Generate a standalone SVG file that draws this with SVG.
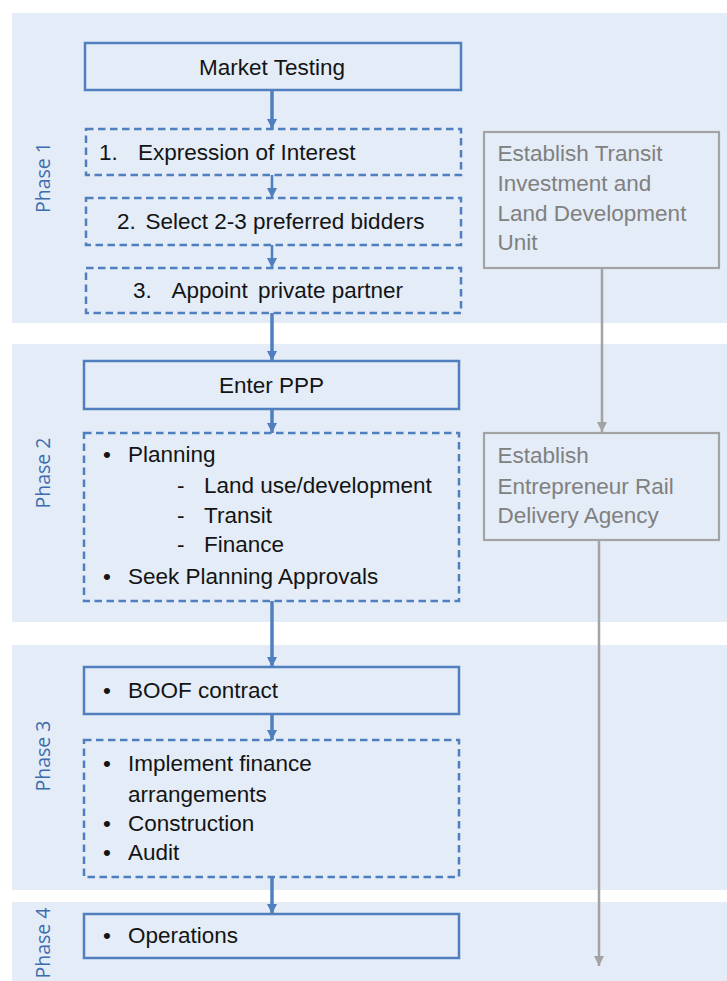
<svg xmlns="http://www.w3.org/2000/svg" width="727" height="981" viewBox="0 0 727 981">
<defs>
<style>
.band{fill:#e3ecf7}
.box{fill:none;stroke:#4f7fbf;stroke-width:2.5}
.dash{fill:none;stroke:#4f7fbf;stroke-width:2.5;stroke-dasharray:7.5 4.5}
.gbox{fill:none;stroke:#a3a3a3;stroke-width:2.2}
.t{font-family:"Liberation Sans",Arial,sans-serif;font-size:22.5px;fill:#141414}
.g{font-family:"Liberation Sans",Arial,sans-serif;font-size:22.5px;fill:#808080}
.ph{font-family:"Open Sans","Noto Sans",sans-serif;font-size:19.5px;fill:#3f6cae;text-anchor:middle}
.arr{stroke:#4f7fbf;stroke-width:3.5;fill:none}
.arr2{stroke:#4f7fbf;stroke-width:2.5;fill:none}
.garr{stroke:#a3a3a3;stroke-width:2.5;fill:none}
</style>
<marker id="ab" markerUnits="userSpaceOnUse" markerWidth="12" markerHeight="10" refX="10" refY="5" orient="auto">
<path d="M0,0 L10,5 L0,10 Z" fill="#4f7fbf"/>
</marker>
<marker id="ag" markerUnits="userSpaceOnUse" markerWidth="12" markerHeight="10" refX="10" refY="5" orient="auto">
<path d="M0,0 L10,5 L0,10 Z" fill="#a3a3a3"/>
</marker>
</defs>
<rect width="727" height="981" fill="#ffffff"/>
<g id="bands">
<rect class="band" x="12" y="13" width="715" height="310"/>
<rect class="band" x="12" y="344" width="715" height="278"/>
<rect class="band" x="12" y="645" width="715" height="245"/>
<rect class="band" x="12" y="902" width="715" height="79"/>
<text class="ph" transform="translate(49.5,177.5) rotate(-90)">Phase 1</text>
<text class="ph" transform="translate(49.5,473) rotate(-90)">Phase 2</text>
<text class="ph" transform="translate(49.5,756) rotate(-90)">Phase 3</text>
<text class="ph" transform="translate(49.5,943) rotate(-90)">Phase 4</text>
</g>
<g id="connectors">
<line class="arr" x1="272" y1="90" x2="272" y2="129" marker-end="url(#ab)"/>
<line class="arr2" x1="272" y1="175" x2="272" y2="198" marker-end="url(#ab)"/>
<line class="arr2" x1="272" y1="245" x2="272" y2="268" marker-end="url(#ab)"/>
<line class="arr" x1="272" y1="313" x2="272" y2="361" marker-end="url(#ab)"/>
<line class="arr" x1="272" y1="409" x2="272" y2="433" marker-end="url(#ab)"/>
<line class="arr" x1="272" y1="601" x2="272" y2="667" marker-end="url(#ab)"/>
<line class="arr" x1="272" y1="714" x2="272" y2="740" marker-end="url(#ab)"/>
<line class="arr" x1="272" y1="877" x2="272" y2="914" marker-end="url(#ab)"/>
<line class="garr" x1="602" y1="268" x2="602" y2="432" marker-end="url(#ag)"/>
<line class="garr" x1="599" y1="540" x2="599" y2="966" marker-end="url(#ag)"/>
</g>
<g id="market-testing">
<rect class="box" x="85" y="43" width="376" height="47"/>
<text class="t" x="272" y="75" text-anchor="middle">Market Testing</text>
</g>
<g id="expression-of-interest">
<rect class="dash" x="86" y="129" width="375" height="46"/>
<text class="t" y="160"><tspan x="99">1.</tspan><tspan x="138">Expression of Interest</tspan></text>
</g>
<g id="select-bidders">
<rect class="dash" x="86" y="198" width="375" height="47"/>
<text class="t" y="229"><tspan x="117">2.</tspan><tspan x="145.5">Select 2-3 preferred bidders</tspan></text>
</g>
<g id="appoint-partner">
<rect class="dash" x="86" y="268" width="375" height="45"/>
<text class="t" y="298"><tspan x="133">3.</tspan><tspan x="171.5">Appoint</tspan><tspan x="258">private partner</tspan></text>
</g>
<g id="transit-unit">
<rect class="gbox" x="484" y="132" width="235" height="136"/>
<text class="g"><tspan x="497.5" y="161">Establish Transit</tspan><tspan x="497.5" y="191">Investment and</tspan><tspan x="497.5" y="221">Land Development</tspan><tspan x="497.5" y="250">Unit</tspan></text>
</g>
<g id="enter-ppp">
<rect class="box" x="84" y="361" width="375" height="48"/>
<text class="t" x="271.5" y="392.5" text-anchor="middle">Enter PPP</text>
</g>
<g id="planning">
<rect class="dash" x="84" y="433" width="375" height="168"/>
<text class="t" x="103" y="462">•</text>
<text class="t" x="128" y="462">Planning</text>
<text class="t" x="177" y="493">-</text>
<text class="t" x="204" y="493">Land use/development</text>
<text class="t" x="177" y="522.5">-</text>
<text class="t" x="204" y="522.5">Transit</text>
<text class="t" x="177" y="551.5">-</text>
<text class="t" x="204" y="551.5">Finance</text>
<text class="t" x="103" y="584">•</text>
<text class="t" x="128" y="584">Seek Planning Approvals</text>
</g>
<g id="rail-agency">
<rect class="gbox" x="484" y="433" width="235" height="107"/>
<text class="g"><tspan x="497.5" y="462.5">Establish</tspan><tspan x="497.5" y="494">Entrepreneur Rail</tspan><tspan x="497.5" y="522.5">Delivery Agency</tspan></text>
</g>
<g id="boof-contract">
<rect class="box" x="84" y="667" width="375" height="47"/>
<text class="t" x="103" y="698">•</text>
<text class="t" x="128" y="698">BOOF contract</text>
</g>
<g id="implementation">
<rect class="dash" x="84" y="740" width="375" height="137"/>
<text class="t" x="103" y="770.5">•</text>
<text class="t" x="128" y="770.5">Implement finance</text>
<text class="t" x="128" y="801.5">arrangements</text>
<text class="t" x="103" y="830.5">•</text>
<text class="t" x="128" y="830.5">Construction</text>
<text class="t" x="103" y="860">•</text>
<text class="t" x="128" y="860">Audit</text>
</g>
<g id="operations">
<rect class="box" x="84" y="914" width="375" height="44"/>
<text class="t" x="103" y="942.5">•</text>
<text class="t" x="128" y="942.5">Operations</text>
</g>
</svg>
